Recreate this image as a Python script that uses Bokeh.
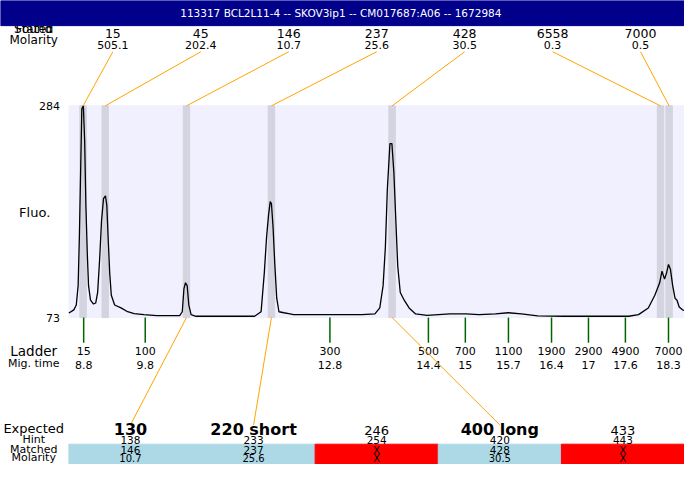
from bokeh.plotting import figure
from bokeh.models import Range1d
from bokeh.core.properties import value
from bokeh.embed import file_html
from bokeh.resources import INLINE

# ---------------- data ----------------
title_text = "113317  BCL2L11-4 -- SKOV3ip1 -- CM017687:A06 -- 1672984"

trace_t = [8.56, 8.64, 8.68, 8.71, 8.73, 8.75, 8.77, 8.795, 8.816, 8.836,
           8.859, 8.879, 8.911, 8.959, 8.995, 9.027, 9.059, 9.09, 9.122, 9.154,
           9.176, 9.197, 9.223, 9.249, 9.303, 9.407, 9.514, 9.62, 9.779, 9.989,
           10.359, 10.402, 10.429, 10.454, 10.481, 10.508, 10.545, 10.624, 11.576, 11.682,
           11.734, 11.771, 11.803, 11.83, 11.85, 11.877, 11.904, 11.936, 11.972, 12.052,
           12.131, 12.21, 13.32, 13.531, 13.61, 13.664, 13.701, 13.733, 13.775, 13.807,
           13.839, 13.871, 13.902, 13.943, 14.007, 14.086, 14.192, 14.378, 14.747, 15.012,
           15.223, 15.488, 15.699, 15.91, 16.175, 16.598, 17.655, 17.813, 17.972, 18.078,
           18.157, 18.194, 18.236, 18.268, 18.3, 18.331, 18.368, 18.406, 18.438, 18.474,
           18.527, 18.56]
trace_v = [77.5, 80.7, 85.5, 104.8, 153, 217.5, 281, 284, 249, 184.8,
           136.6, 104.8, 90.3, 86.5, 87.5, 98, 130.8, 169.4, 191.5, 194.4,
           184.8, 153, 117.3, 95.2, 85.5, 82.6, 78.8, 76.9, 75.9, 74.9,
           74.9, 78.8, 101.9, 107.7, 104.8, 85.5, 75.9, 74.3, 74.3, 78.8,
           117.3, 153, 175.1, 188.6, 186.7, 162.6, 127, 92.3, 78.8, 77.8,
           76.9, 75.9, 75.9, 76.6, 82.6, 104.8, 143.3, 201.1, 246.4, 246.4,
           217.5, 169.4, 124.1, 98, 90.3, 82.6, 76.6, 75.2, 76.6, 76.6,
           75.9, 76.6, 77.8, 76.6, 74.6, 74.3, 74.3, 75.9, 82.6, 95.2,
           107.7, 119.2, 111.5, 117.3, 126, 121.2, 104.8, 92.3, 90.3, 83.6,
           80.7, 80]

fluo_min, fluo_max = 73, 284

peak_times = [8.79, 9.15, 10.47, 11.85, 13.81, 18.17, 18.31]
peak_sizes = ["15", "45", "146", "237", "428", "6558", "7000"]
peak_molarity = ["505.1", "202.4", "10.7", "25.6", "30.5", "0.3", "0.5"]

ladder_sizes = ["15", "100", "300", "500", "700", "1100", "1900", "2900", "4900", "7000"]
ladder_times = [8.8, 9.8, 12.8, 14.4, 15, 15.7, 16.4, 17, 17.6, 18.3]
ladder_time_labels = ["8.8", "9.8", "12.8", "14.4", "15", "15.7", "16.4", "17", "17.6", "18.3"]

expected = ["130", "220 short", "246", "400 long", "433"]
hints = ["138", "233", "254", "420", "443"]
matched = ["146", "237", "X", "428", "X"]
matched_molarity = ["10.7", "25.6", "X", "30.5", "X"]

# ---------------- layout helpers (reference pixel -> data) ----------------
T_START, T_END = trace_t[0], trace_t[-1]
PX_LEFT, PX_RIGHT = 70, 700
PX_TOP, PX_BOTTOM = 109, 328


def tx(px):
    return T_START + (px - PX_LEFT) * (T_END - T_START) / (PX_RIGHT - PX_LEFT)


def vy(py):
    return fluo_min + (PX_BOTTOM - py) * (fluo_max - fluo_min) / (PX_BOTTOM - PX_TOP)


FONT = value("DejaVu Sans")

p = figure(width=684, height=464, output_backend="svg", toolbar_location=None,
           x_range=Range1d(tx(0), tx(700)), y_range=Range1d(vy(480), vy(0)),
           x_axis_location=None, y_axis_location=None, min_border=0)
p.grid.visible = False
p.outline_line_color = None
p.background_fill_color = "white"
p.border_fill_color = "white"

# top-left labels (partly hidden by the header band drawn afterwards)
p.text(x=[tx(34)] * 2, y=[vy(29.5)] * 2, text=["Stated", "Found"], text_font=FONT,
       text_font_size="12px", text_align="center", text_baseline="middle")
p.text(x=[tx(34)], y=[vy(40.5)], text=["Molarity"], text_font=FONT,
       text_font_size="12px", text_align="center", text_baseline="middle")

# header
p.quad(left=[tx(0)], right=[tx(700)], bottom=[vy(26)], top=[vy(0)], color="#00008b")
p.text(x=[tx(350)], y=[vy(13)], text=[title_text], text_color="white",
       text_font=FONT, text_font_size="10.5px", text_align="center", text_baseline="middle")

# plot area
p.quad(left=[T_START], right=[T_END], bottom=[fluo_min], top=[fluo_max], color="#f0f0fe")
band_w = 0.105
p.quad(left=[t - band_w / 2 for t in peak_times], right=[t + band_w / 2 for t in peak_times],
       bottom=fluo_min, top=fluo_max, color="#d4d4e0")
p.line(trace_t, trace_v, line_color="black", line_width=1.3)

# y labels
p.text(x=[tx(61)] * 2, y=[fluo_min, fluo_max], text=[str(fluo_min), str(fluo_max)],
       text_font=FONT, text_font_size="11px", text_align="right", text_baseline="middle")
p.text(x=[tx(35)], y=[vy(219)], text=["Fluo."], text_font=FONT, text_font_size="13px",
       text_align="center", text_baseline="middle")

# top peak labels
label_x = [tx(115 + 90 * i) for i in range(len(peak_sizes))]
p.text(x=label_x, y=[vy(34)] * len(peak_sizes), text=peak_sizes, text_font=FONT,
       text_font_size="12.5px", text_align="center", text_baseline="middle")
p.text(x=label_x, y=[vy(46)] * len(peak_sizes), text=peak_molarity, text_font=FONT,
       text_font_size="11px", text_align="center", text_baseline="middle")
p.segment(x0=label_x, y0=[vy(53)] * len(peak_sizes), x1=peak_times,
          y1=[fluo_max] * len(peak_sizes), line_color="orange", line_width=1)

# ladder
p.segment(x0=ladder_times, y0=[fluo_min] * len(ladder_times), x1=ladder_times,
          y1=[vy(354)] * len(ladder_times), line_color="#006400", line_width=1.5)
p.text(x=ladder_times, y=[vy(363)] * len(ladder_times), text=ladder_sizes, text_font=FONT,
       text_font_size="11px", text_align="center", text_baseline="middle")
p.text(x=ladder_times, y=[vy(377)] * len(ladder_times), text=ladder_time_labels, text_font=FONT,
       text_font_size="11px", text_align="center", text_baseline="middle")
p.text(x=[tx(34)], y=[vy(363)], text=["Ladder"], text_font=FONT, text_font_size="13.5px",
       text_align="center", text_baseline="middle")
p.text(x=[tx(34)], y=[vy(376)], text=["Mig. time"], text_font=FONT, text_font_size="11px",
       text_align="center", text_baseline="middle")

# bottom table
ncol = len(expected)
col_left = [tx(70 + 126 * i) for i in range(ncol)]
col_right = [tx(196 + 126 * i) for i in range(ncol)]
col_center = [tx(133 + 126 * i) for i in range(ncol)]
is_match = [m != "X" for m in matched]
p.quad(left=col_left, right=col_right, bottom=vy(480), top=vy(459),
       color=["#add8e6" if m else "#ff0000" for m in is_match])

# leader lines from matched peaks to expected
lx0, ly0, lx1, ly1 = [], [], [], []
for i, m in enumerate(matched):
    if m in peak_sizes:
        lx0.append(peak_times[peak_sizes.index(m)])
        ly0.append(fluo_min)
        lx1.append(col_center[i])
        ly1.append(vy(439))
p.segment(x0=lx0, y0=ly0, x1=lx1, y1=ly1, line_color="orange", line_width=1)

bx = [c for c, m in zip(col_center, is_match) if m]
bt = [e for e, m in zip(expected, is_match) if m]
nx = [c for c, m in zip(col_center, is_match) if not m]
nt = [e for e, m in zip(expected, is_match) if not m]
p.text(x=bx, y=[vy(443.5)] * len(bx), text=bt, text_font=FONT, text_font_size="16px",
       text_font_style="bold", text_align="center", text_baseline="middle")
p.text(x=nx, y=[vy(444.5)] * len(nx), text=nt, text_font=FONT, text_font_size="13px",
       text_align="center", text_baseline="middle")
p.text(x=col_center, y=[vy(454.5)] * ncol, text=hints, text_font=FONT, text_font_size="10.5px",
       text_align="center", text_baseline="middle")
p.text(x=col_center, y=[vy(465)] * ncol, text=matched, text_font=FONT, text_font_size="10.5px",
       text_align="center", text_baseline="middle")
p.text(x=col_center, y=[vy(473.5)] * ncol, text=matched_molarity, text_font=FONT,
       text_font_size="10px", text_align="center", text_baseline="middle")

p.text(x=[tx(34)], y=[vy(443)], text=["Expected"], text_font=FONT, text_font_size="13px",
       text_align="center", text_baseline="middle")
p.text(x=[tx(34)] * 3, y=[vy(454), vy(464.5), vy(473)], text=["Hint", "Matched", "Molarity"],
       text_font=FONT, text_font_size="11px", text_align="center", text_baseline="middle")

open("out.html", "w").write(file_html(p, INLINE))
